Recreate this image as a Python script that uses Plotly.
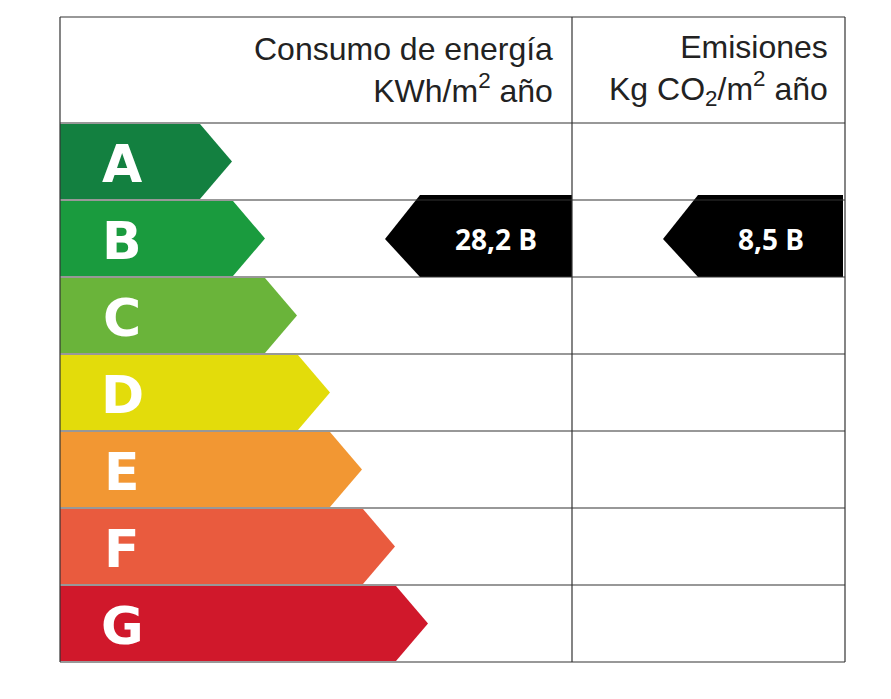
import plotly.graph_objects as go

ratings = ["A", "B", "C", "D", "E", "F", "G"]
band_ends = [232, 265, 297, 330, 362, 395, 428]
colors = ["#138040", "#1a9b3e", "#6ab43a", "#e3dc0b", "#f29733", "#e95b3e", "#d0182b"]
energy_value = "28,2 B"
emission_value = "8,5 B"
value_rating = "B"

X0, X1, XM = 60, 845, 572
YH, Y0 = 17, 123
ROW = (662 - 123) / 7
TIP = 32

fig = go.Figure()
for i, (r, e, c) in enumerate(zip(ratings, band_ends, colors)):
    t = Y0 + i * ROW + 1
    b = Y0 + (i + 1) * ROW - 1
    m = (t + b) / 2
    fig.add_trace(go.Scatter(x=[X0, e - TIP, e, e - TIP, X0, X0], y=[t, t, m, b, b, t],
                             fill="toself", fillcolor=c, line=dict(width=0), mode="lines",
                             hoverinfo="skip"))
    fig.add_annotation(x=122, y=m + 2, text="<b>%s</b>" % r, showarrow=False,
                       font=dict(family="DejaVu Sans", size=52, color="white"))

vi = ratings.index(value_rating)
t = Y0 + vi * ROW + 1
b = Y0 + (vi + 1) * ROW
m = (t + b) / 2
for (l, rgt, txt) in [(385, XM, energy_value), (663, 843, emission_value)]:
    fig.add_trace(go.Scatter(x=[l, l + 35, rgt, rgt, l + 35, l], y=[m, t - 6, t - 6, b, b, m],
                             fill="toself", fillcolor="black", line=dict(width=0), mode="lines",
                             hoverinfo="skip"))
    fig.add_annotation(x=(l + 35 + rgt) / 2, y=m, text="<b>%s</b>" % txt, showarrow=False,
                       font=dict(family="Open Sans", size=28, color="white"))

# grid
lx, ly = [], []
for k in range(8):
    y = Y0 + k * ROW
    lx += [X0, X1, None]; ly += [y, y, None]
lx += [X0, X1, None, X0, X0, None, XM, XM, None, X1, X1, None]
ly += [YH, YH, None, YH, 662, None, YH, 662, None, YH, 662, None]
fig.add_trace(go.Scatter(x=lx, y=ly, mode="lines", line=dict(color="#333", width=1.2),
                         hoverinfo="skip"))

fig.add_annotation(x=555, y=70, xanchor="right", align="right", showarrow=False,
                   text="Consumo de energía<br>KWh/m<sup>2</sup> año",
                   font=dict(family="Liberation Sans", size=32, color="#222"))
fig.add_annotation(x=830, y=70, xanchor="right", align="right", showarrow=False,
                   text="Emisiones<br>Kg CO<sub>2</sub>/m<sup>2</sup> año",
                   font=dict(family="Liberation Sans", size=32, color="#222"))

fig.update_layout(width=891, height=699, margin=dict(l=0, r=0, t=0, b=0),
                  paper_bgcolor="white", plot_bgcolor="white", showlegend=False,
                  xaxis=dict(range=[8, 899], visible=False, fixedrange=True),
                  yaxis=dict(range=[707, 8], visible=False, fixedrange=True))
fig.write_html("out.html")
